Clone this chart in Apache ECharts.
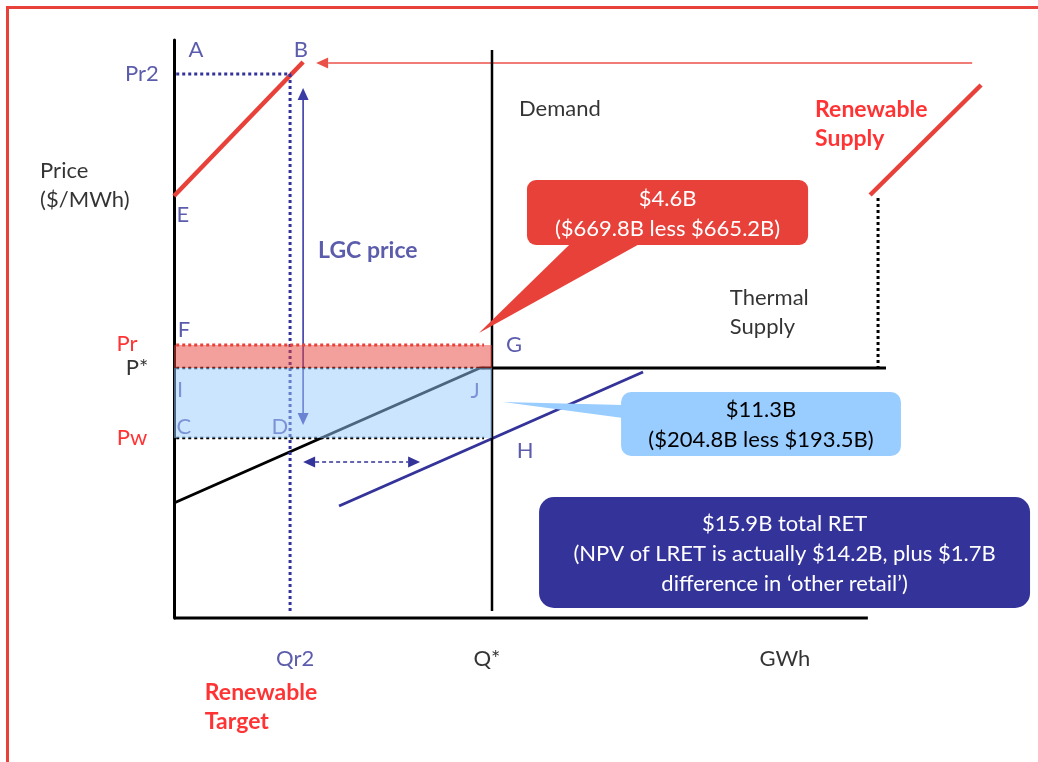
<!DOCTYPE html>
<html>
<head>
<meta charset="utf-8">
<script src="https://cdn.jsdelivr.net/npm/echarts@6/dist/echarts.min.js"></script>
<style>
  html, body { margin: 0; padding: 0; background: #fff; overflow: hidden; }
  #chart { position: absolute; left: 0; top: 0; width: 1038px; height: 762px; }
  #frame { position: absolute; left: 6px; top: 6px; width: 1040px; height: 770px;
           border-left: 3px solid #e8413a; border-top: 3px solid #e8413a; pointer-events: none; }
</style>
</head>
<body>
<div id="chart"></div>
<div id="frame"></div>
<script>
// Price levels ($/MWh, diagram units) and quantities (GWh, diagram units)
const PR2 = 108.8, PR = 54.6, PSTAR = 50, PW = 36;
const QR2 = 36.5, QSTAR = 100;
const Q_AXIS_END = 218.2, Y_MAX = 115.6, X_VIEW_MAX = 271.7;

// Supply and demand curves
const renewableSupplyNear = [[0, 84.4], [40.6, 111.2]];
const renewableSupplyFar = [[218.9, 84.6], [253.8, 106.6]];
const thermalSupply = [[0, 23], [96.2, PSTAR], [223.9, PSTAR]];
const thermalSupplyWithRet = [[51.9, 22.4], [147.5, 49.2]];
const demandLine = [[QSTAR, 1.4], [QSTAR, 113.6]];
const thermalCap = [[221.4, 84], [221.4, PSTAR]];
const quantityAxis = [[0, 0], [Q_AXIS_END, 0]];

// Welfare-transfer bands: [x0, y0, x1, y1]
const bandRetailPremium = [0, PSTAR, QSTAR, PR];
const bandWholesaleDrop = [0, PW, QSTAR, PSTAR];

// Callout values ($B)
const calloutRed = ['$4.6B', '($669.8B less $665.2B)'];
const calloutBlue = ['$11.3B', '($204.8B less $193.5B)'];
const calloutTotal = ['$15.9B total RET', '(NPV of LRET is actually $14.2B, plus $1.7B', 'difference in ‘other retail’)'];

const FONT = 'Lato, "Noto Sans", sans-serif';
const NAVY = '#333399';
const RED = '#e8413a';

const chart = echarts.init(document.getElementById('chart'));

function lineSeries(data, color, width, type, z) {
  return {
    type: 'line', data: data, symbol: 'none', clip: false, silent: true,
    lineStyle: { color: color, width: width, type: type || 'solid', cap: 'butt' },
    z: z || 2, animation: false
  };
}

// text annotations: [text, x, y, align, color, bold]
const labelsUnder = [
  ['I', 1.9, 45.6, 'center', NAVY, false],
  ['J', 94.7, 45.4, 'center', NAVY, false],
  ['C', 3.1, 38.2, 'center', NAVY, false],
  ['D', 33.3, 38.2, 'center', NAVY, false]
];
const labelsOver = [
  ['A', 6.9, 113.6, 'center', NAVY, false],
  ['B', 39.9, 113.6, 'center', NAVY, false],
  ['Pr2', -10.1, PR2, 'center', NAVY, false],
  ['Price\n($/MWh)', -42.1, 86.6, 'left', '#000', false],
  ['E', 2.8, 80.6, 'center', NAVY, false],
  ['LGC price', 45.3, 73.4, 'left', NAVY, true],
  ['Demand', 108.5, 101.8, 'left', '#000', false],
  ['Renewable\nSupply', 201.6, 98.7, 'left', '#ff0000', true],
  ['F', 3.1, 57.6, 'center', NAVY, false],
  ['G', 106.9, 54.6, 'center', NAVY, false],
  ['Pr', -14.8, PR + 0.2, 'center', '#ff0000', false],
  ['P*', -11.6, PSTAR, 'center', '#000', false],
  ['Pw', -13.2, PW, 'center', '#ff0000', false],
  ['H', 110.4, 33.4, 'center', NAVY, false],
  ['Thermal\nSupply', 174.8, 61.1, 'left', '#000', false],
  ['Qr2', QR2 + 1.6, -8.2, 'center', NAVY, false],
  ['Q*', QSTAR - 1.6, -8.2, 'center', '#000', false],
  ['GWh', 192.1, -8.2, 'center', '#000', false],
  ['Renewable\nTarget', 9.7, -17.9, 'left', '#ff0000', true]
];

function textSeries(items, z) {
  return {
    type: 'scatter', symbolSize: 0, clip: false, silent: true, z: z, animation: false,
    data: items.map(function (t) {
      return {
        value: [t[1], t[2]],
        label: {
          show: true, formatter: t[0],
          position: t[3] === 'left' ? 'right' : 'inside',
          distance: 0, align: t[3], verticalAlign: 'middle',
          color: t[4], fontFamily: FONT, fontSize: t[5] ? 23 : 22,
          fontWeight: t[5] ? 'bold' : 'normal', lineHeight: 29
        }
      };
    })
  };
}

// arrows: [x0, y0, x1, y1, headAtStart, headAtEnd, color, dashed]
const arrows = [
  [251, 111, 44.7, 111, false, true, '#ea5149', false],
  [40.6, 106, 40.6, 38.6, true, true, '#3b3ba6', false],
  [40.6, 31.2, 77.4, 31.2, true, true, NAVY, true]
];

const callouts = [
  { lines: calloutRed, box: [111.0, 74.6, 199.4, 87.6], tail: [[125.2, 75.2], [147.5, 75.2], [95.9, 57]], fill: RED, text: '#fff', r: 9 },
  { lines: calloutBlue, box: [140.6, 32.4, 228.6, 45.2], tail: [[141.2, 42.6], [141.2, 40.0], [103.5, 43.2]], fill: '#99ccff', text: '#000', r: 10 },
  { lines: calloutTotal, box: [114.8, 2.0, 269.2, 24.2], tail: null, fill: NAVY, text: '#fff', r: 15 }
];

const option = {
  animation: false,
  grid: { left: 174, top: 40, right: 0, height: 578 },
  xAxis: {
    type: 'value', min: 0, max: X_VIEW_MAX,
    axisLine: { show: false },
    axisTick: { show: false }, axisLabel: { show: false }, splitLine: { show: false }
  },
  yAxis: {
    type: 'value', min: 0, max: Y_MAX,
    axisLine: { show: true, onZero: false, lineStyle: { color: '#000', width: 3 } },
    axisTick: { show: false }, axisLabel: { show: false }, splitLine: { show: false }
  },
  series: [
    // quantity axis (stops short of the grid edge)
    lineSeries(quantityAxis, '#000', 3),
    // curves
    lineSeries(thermalSupply, '#000', 3),
    lineSeries(thermalSupplyWithRet, NAVY, 3),
    lineSeries(demandLine, '#000', 2.5),
    lineSeries(renewableSupplyNear, RED, 4.5),
    lineSeries(renewableSupplyFar, RED, 4.5),
    // dotted guides
    lineSeries([[0.7, PR2], [QR2 + 0.3, PR2]], NAVY, 3, [3, 3]),
    lineSeries([[QR2, PR2], [QR2, 0.8]], NAVY, 3, [3, 3]),
    lineSeries([[0.7, PR], [97.5, PR]], RED, 3, [3, 3]),
    lineSeries([[0.7, PSTAR], [97.5, PSTAR]], '#000', 2.5, [3, 3]),
    lineSeries([[0.7, PW], [97.5, PW]], '#000', 2.5, [3, 3]),
    lineSeries(thermalCap, '#000', 3, [3, 3]),
    // arrows
    {
      type: 'custom', clip: false, silent: true, z: 2, animation: false,
      data: arrows.map(function (a) { return [a[0], a[1], a[2], a[3]]; }),
      renderItem: function (params, api) {
        const a = arrows[params.dataIndex];
        const p0 = api.coord([a[0], a[1]]), p1 = api.coord([a[2], a[3]]);
        const dx = p1[0] - p0[0], dy = p1[1] - p0[1];
        const len = Math.sqrt(dx * dx + dy * dy);
        const ux = dx / len, uy = dy / len, nx = -uy, ny = ux;
        const L = 12, W = 5.5;
        const s = a[4] ? [p0[0] + ux * L, p0[1] + uy * L] : p0;
        const e = a[5] ? [p1[0] - ux * L, p1[1] - uy * L] : p1;
        const children = [{
          type: 'line', shape: { x1: s[0], y1: s[1], x2: e[0], y2: e[1] },
          style: { stroke: a[6], lineWidth: 1.6, lineDash: a[7] ? [4, 3] : null }
        }];
        if (a[5]) children.push({ type: 'polygon', shape: { points: [p1, [e[0] + nx * W, e[1] + ny * W], [e[0] - nx * W, e[1] - ny * W]] }, style: { fill: a[6] } });
        if (a[4]) children.push({ type: 'polygon', shape: { points: [p0, [s[0] + nx * W, s[1] + ny * W], [s[0] - nx * W, s[1] - ny * W]] }, style: { fill: a[6] } });
        return { type: 'group', children: children };
      }
    },
    textSeries(labelsUnder, 2),
    // translucent bands drawn over the curves
    {
      type: 'custom', clip: false, silent: true, z: 3, animation: false,
      data: [bandRetailPremium, bandWholesaleDrop],
      renderItem: function (params, api) {
        const p0 = api.coord([api.value(0), api.value(3)]);
        const p1 = api.coord([api.value(2), api.value(1)]);
        return {
          type: 'rect',
          shape: { x: p0[0], y: p0[1], width: p1[0] - p0[0], height: p1[1] - p0[1] },
          style: { fill: params.dataIndex === 0 ? 'rgba(232,65,58,0.5)' : 'rgba(153,204,255,0.5)' }
        };
      }
    },
    textSeries(labelsOver, 4),
    // callout boxes
    {
      type: 'custom', clip: false, silent: true, z: 5, animation: false,
      data: callouts.map(function (c) { return c.box; }),
      renderItem: function (params, api) {
        const c = callouts[params.dataIndex];
        const tl = api.coord([c.box[0], c.box[3]]), br = api.coord([c.box[2], c.box[1]]);
        const children = [];
        if (c.tail) {
          children.push({ type: 'polygon', shape: { points: c.tail.map(function (p) { return api.coord(p); }) }, style: { fill: c.fill } });
        }
        children.push({ type: 'rect', shape: { x: tl[0], y: tl[1], width: br[0] - tl[0], height: br[1] - tl[1], r: c.r }, style: { fill: c.fill } });
        children.push({
          type: 'text',
          style: {
            text: c.lines.join('\n'), x: (tl[0] + br[0]) / 2, y: (tl[1] + br[1]) / 2 + 1,
            align: 'center', verticalAlign: 'middle', fill: c.text,
            fontFamily: FONT, fontSize: 22, lineHeight: 30
          }
        });
        return { type: 'group', children: children };
      }
    }
  ]
};

chart.setOption(option);
</script>
</body>
</html>
